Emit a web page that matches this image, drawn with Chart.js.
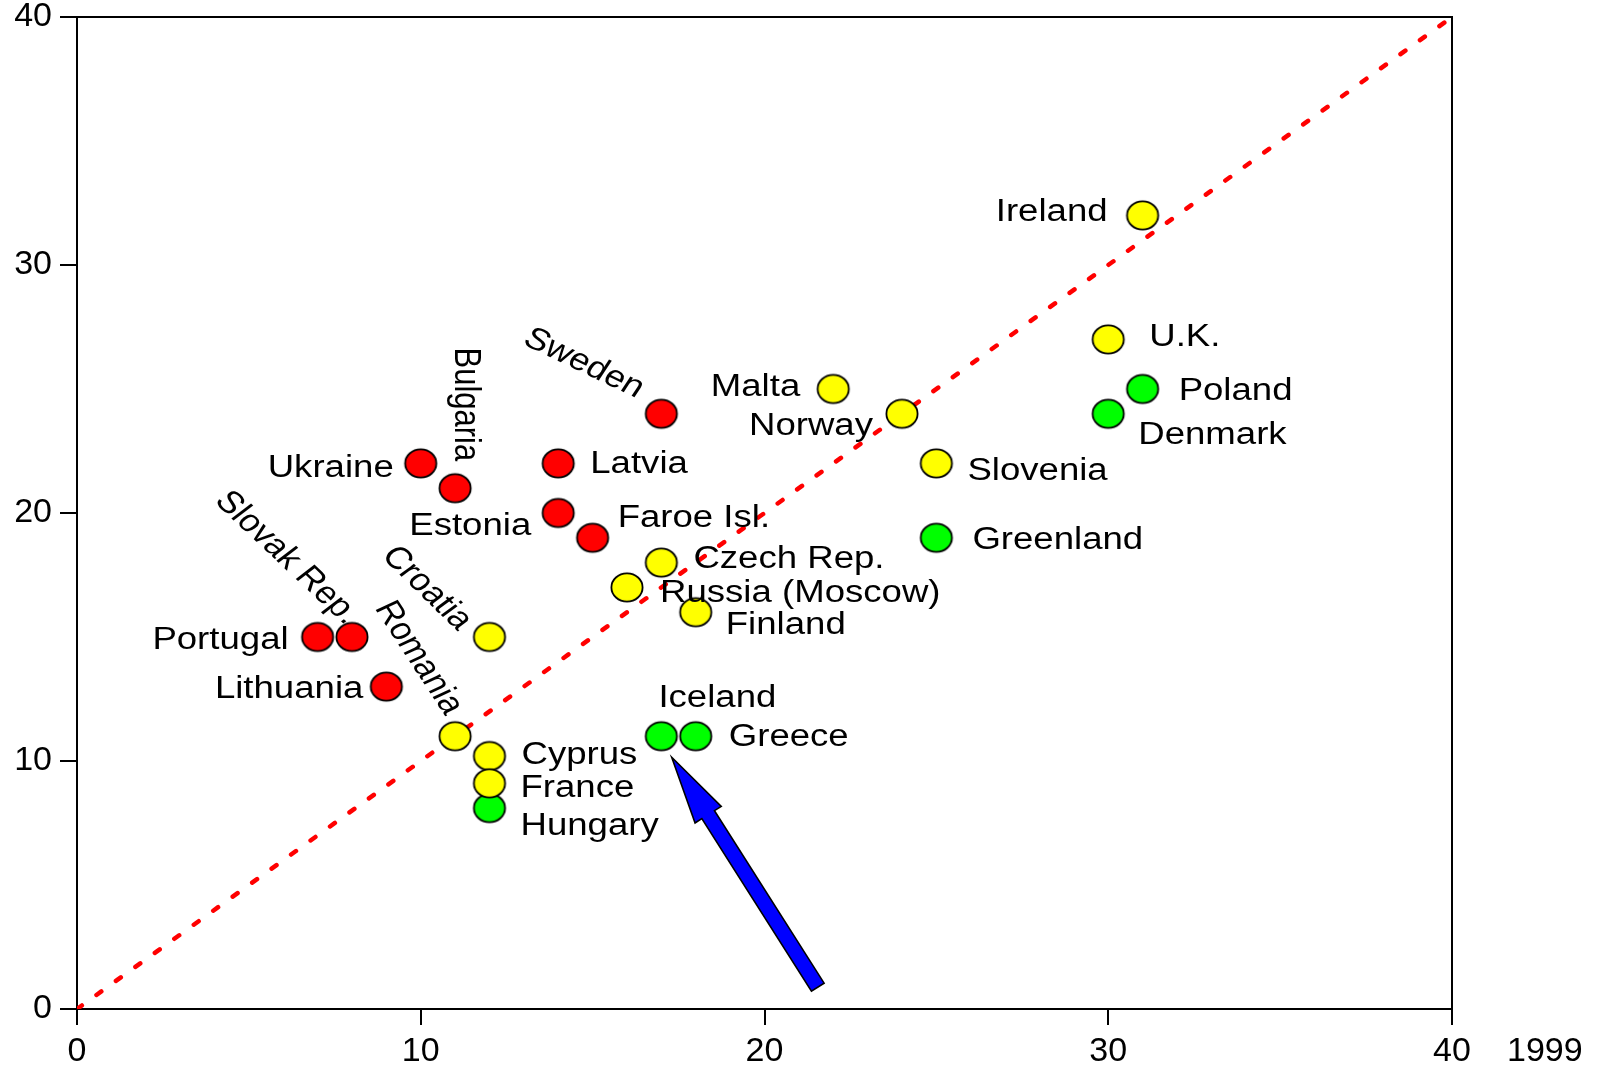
<!DOCTYPE html>
<html>
<head>
<meta charset="utf-8">
<script src="https://cdn.jsdelivr.net/npm/chart.js@4/dist/chart.umd.min.js"></script>
<style>
  html, body { margin: 0; padding: 0; background: #fff; }
  #wrap { width: 1602px; height: 1068px; }
</style>
</head>
<body>
<div id="wrap"><canvas id="c" width="1602" height="1068"></canvas></div>
<script>
// ---- data ----
const countries = ["Ireland","U.K.","Poland","Denmark","Malta","Norway","Slovenia","Greenland",
  "Sweden","Latvia","Ukraine","Bulgaria","Estonia","Faroe Isl.","Czech Rep.","Russia (Moscow)",
  "Finland","Croatia","Portugal","Slovak Rep.","Lithuania","Romania","Cyprus","France","Hungary",
  "Iceland","Greece"];
const values1999 = [31,30,31,30,22,24,25,25,17,14,10,11,14,15,17,16,18,12,7,8,9,11,12,12,12,17,18];
const valuesY    = [32,27,25,24,25,24,22,19,24,22,22,21,20,19,18,17,16,15,15,15,13,11,10.2,9.1,8.1,11,11];
const groups     = ["yellow","yellow","green","green","yellow","yellow","yellow","green",
  "red","red","red","red","red","red","yellow","yellow","yellow","yellow","red","red","red",
  "yellow","yellow","yellow","green","green","green"];
const xTicks = [0,10,20,30,40];
const yTicks = [0,10,20,30,40];
const xAxisName = "1999";
const diagonal = [{x:0,y:0},{x:40,y:40}];
const arrowTip  = {x:17.3, y:10.15};
const arrowTail = {x:21.55, y:0.88};

// ---- styles ----
const groupColors = { red: "#ff0000", yellow: "#ffff00", green: "#00ff00" };
const SX = 1.18; // horizontal stretch of the reference
const labelFont = "31px 'Liberation Sans', Arial, sans-serif";
// label placement: [dx, dy, align, rotationDeg]
const labelLayout = {
  "Ireland": [-35,-3,"right",0], "U.K.": [41,-2,"left",0], "Poland": [36,2,"left",0],
  "Denmark": [30,22,"left",0], "Malta": [-33,-2,"right",0], "Norway": [-29,13,"right",0],
  "Slovenia": [31,8,"left",0], "Greenland": [36,3,"left",0], "Sweden": [-20,-23,"right",29.3],
  "Latvia": [32,1,"left",0], "Ukraine": [-27,5,"right",0], "Bulgaria": [10,-27,"right",90],
  "Estonia": [-27,13,"right",0], "Faroe Isl.": [25,-19,"left",0], "Czech Rep.": [32,-3,"left",0],
  "Russia (Moscow)": [33,6,"left",0], "Finland": [30,13,"left",0], "Croatia": [-24,-11,"right",49],
  "Portugal": [-29,3,"right",0], "Slovak Rep.": [1,-17,"right",48], "Lithuania": [-23,3,"right",0],
  "Romania": [-1,-24,"right",61], "Cyprus": [32,-1,"left",0], "France": [31,5,"left",0],
  "Hungary": [31,18,"left",0], "Iceland": [-3,-38,"left",0], "Greece": [33,1,"left",0]
};

function ellipseMarker(color) {
  const cv = document.createElement("canvas");
  cv.width = 36; cv.height = 33;
  const g = cv.getContext("2d");
  g.beginPath();
  g.ellipse(18, 16.5, 15.6, 14.1, 0, 0, Math.PI * 2);
  g.fillStyle = color; g.fill();
  g.lineWidth = 1.8; g.strokeStyle = "#000"; g.stroke();
  return cv;
}

const datasets = [];
["red","yellow","green"].forEach(gname => {
  const pts = [];
  countries.forEach((c, i) => { if (groups[i] === gname) pts.push({x: values1999[i], y: valuesY[i], name: c}); });
  datasets.push({
    type: "scatter", label: gname, data: pts, order: 1,
    pointStyle: ellipseMarker(groupColors[gname]), pointRadius: 16, pointHoverRadius: 16
  });
});
datasets.push({
  type: "line", label: "diag", data: diagonal, order: 10,
  borderColor: "#ff0000", borderWidth: 4.5, borderDash: [6, 18], borderCapStyle: "round",
  pointRadius: 0, fill: false, tension: 0
});

const tickFont = { family: "'Liberation Sans', Arial, sans-serif", size: 34, lineHeight: 1 };

const overlay = {
  id: "overlay",
  afterDatasetsDraw(chart) {
    const { ctx, chartArea: a, scales: { x, y } } = chart;
    ctx.save();
    // frame top & right
    ctx.strokeStyle = "#000"; ctx.lineWidth = 2;
    ctx.beginPath();
    ctx.moveTo(a.left, a.top); ctx.lineTo(a.right, a.top); ctx.lineTo(a.right, a.bottom);
    ctx.stroke();
    // labels
    ctx.fillStyle = "#000"; ctx.font = labelFont; ctx.textBaseline = "middle";
    for (let d = 0; d < 3; d++) {
      const meta = chart.getDatasetMeta(d);
      meta.data.forEach((el, j) => {
        const name = chart.data.datasets[d].data[j].name;
        const L = labelLayout[name];
        ctx.save();
        ctx.translate(el.x + L[0], el.y + L[1]);
        ctx.scale(SX, 1);
        ctx.rotate(L[3] * Math.PI / 180);
        ctx.textAlign = L[2];
        ctx.fillText(name, 0, 0);
        ctx.restore();
      });
    }
    // arrow
    const tx = x.getPixelForValue(arrowTip.x), ty = y.getPixelForValue(arrowTip.y);
    const bx = x.getPixelForValue(arrowTail.x), by = y.getPixelForValue(arrowTail.y);
    const len = Math.hypot(bx - tx, by - ty);
    const ux = (bx - tx) / len, uy = (by - ty) / len; // tip -> tail
    const px = -uy, py = ux;
    const headLen = 68, headW = 31, shaftW = 15;
    const hx = tx + ux * headLen, hy = ty + uy * headLen;
    ctx.beginPath();
    ctx.moveTo(tx, ty);
    ctx.lineTo(hx + px * headW / 2, hy + py * headW / 2);
    ctx.lineTo(hx + px * shaftW / 2, hy + py * shaftW / 2);
    ctx.lineTo(bx + px * shaftW / 2, by + py * shaftW / 2);
    ctx.lineTo(bx - px * shaftW / 2, by - py * shaftW / 2);
    ctx.lineTo(hx - px * shaftW / 2, hy - py * shaftW / 2);
    ctx.lineTo(hx - px * headW / 2, hy - py * headW / 2);
    ctx.closePath();
    ctx.fillStyle = "#0000ff"; ctx.fill();
    ctx.lineWidth = 1.6; ctx.strokeStyle = "#000"; ctx.lineJoin = "miter"; ctx.stroke();
    // x axis name
    ctx.fillStyle = "#000";
    ctx.font = "34px 'Liberation Sans', Arial, sans-serif";
    ctx.textAlign = "left"; ctx.textBaseline = "middle";
    ctx.fillText(xAxisName, a.right + 55, a.bottom + 43);
    ctx.restore();
  }
};

new Chart(document.getElementById("c"), {
  data: { datasets },
  options: {
    responsive: false, animation: false, events: [],
    layout: { padding: { top: 16, right: 150, left: 0, bottom: 0 } },
    plugins: { legend: { display: false }, tooltip: { enabled: false } },
    scales: {
      x: {
        type: "linear", min: 0, max: 40,
        afterBuildTicks(s) { s.ticks = xTicks.map(v => ({ value: v })); },
        ticks: { font: tickFont, color: "#000", padding: 10, maxRotation: 0 },
        grid: { drawOnChartArea: false, tickLength: 16, color: "#000", lineWidth: 2 },
        border: { color: "#000", width: 2 },
        afterFit(s) { s.height = 59; s.paddingLeft = 0; s.paddingRight = 0; }
      },
      y: {
        type: "linear", min: 0, max: 40,
        afterBuildTicks(s) { s.ticks = yTicks.map(v => ({ value: v })); },
        ticks: { font: tickFont, color: "#000", padding: 8 },
        grid: { drawOnChartArea: false, tickLength: 17, color: "#000", lineWidth: 2 },
        border: { color: "#000", width: 2 },
        afterFit(s) { s.width = 77; s.paddingTop = 0; s.paddingBottom = 0; }
      }
    }
  },
  plugins: [overlay]
});
</script>
</body>
</html>
